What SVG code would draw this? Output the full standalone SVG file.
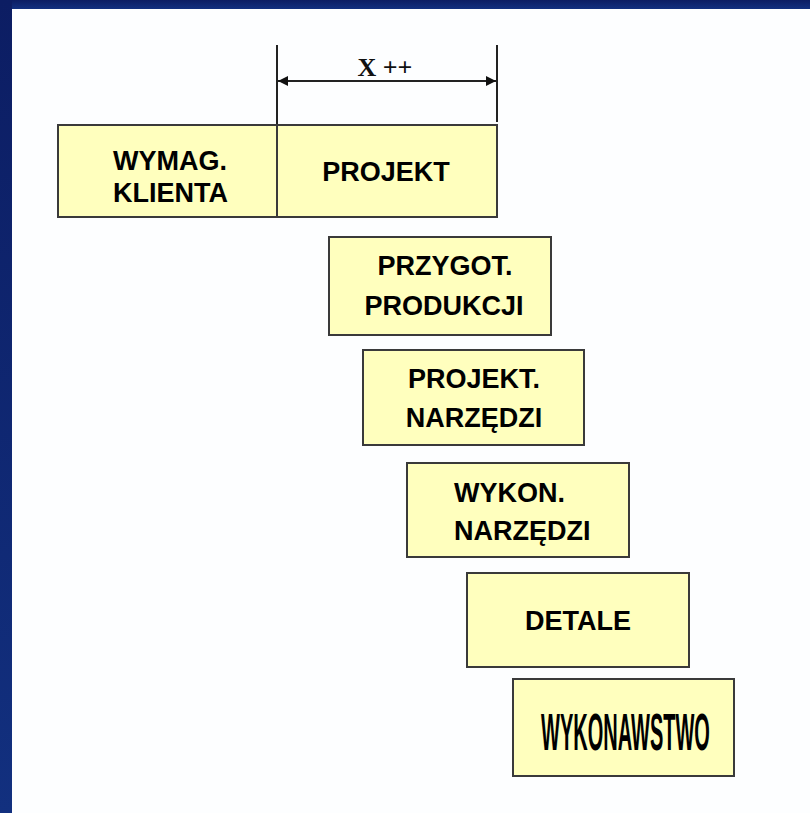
<svg xmlns="http://www.w3.org/2000/svg" width="810" height="813" viewBox="0 0 810 813">
  <style>
    .box { fill: #FFFFBE; stroke: #3a3a3a; stroke-width: 2; }
    .lbl { font-family: "Liberation Sans", Arial, sans-serif; font-weight: bold; font-size: 27px; fill: #000; }
    .mid { text-anchor: middle; }
    .dim { stroke: #222; stroke-width: 2; fill: none; }
  </style>
  <defs>
    <marker id="ah" viewBox="0 0 10 10" refX="10" refY="5" markerWidth="18" markerHeight="10" markerUnits="userSpaceOnUse" orient="auto-start-reverse">
      <path d="M0,0 L10,5 L0,10 Z" fill="#111"/>
    </marker>
    <linearGradient id="bg" x1="0" y1="0" x2="0" y2="1">
      <stop offset="0" stop-color="#0c1d63"/>
      <stop offset="1" stop-color="#12307f"/>
    </linearGradient>
  </defs>

  <rect x="0" y="0" width="810" height="813" fill="#FDFEFF"/>
  <rect x="0" y="0" width="810" height="9" fill="url(#bg)"/>
  <rect x="0" y="0" width="12" height="813" fill="url(#bg)"/>

  <g id="connectors">
    <line class="dim" x1="277" y1="45" x2="277" y2="125"/>
    <line class="dim" x1="497" y1="45" x2="497" y2="122"/>
    <line class="dim" x1="278" y1="81" x2="496" y2="81" stroke-width="2.5" marker-start="url(#ah)" marker-end="url(#ah)"/>
    <text x="385" y="76" text-anchor="middle" font-family="Liberation Serif, 'Times New Roman', serif" font-size="26" font-weight="bold" fill="#111">X ++</text>
  </g>

  <g id="wymag-klienta">
    <rect class="box" x="58" y="125" width="219" height="92"/>
    <text class="lbl" x="113" y="170">WYMAG.</text>
    <text class="lbl" x="113" y="202">KLIENTA</text>
  </g>

  <g id="projekt">
    <rect class="box" x="277" y="125" width="220" height="92"/>
    <text class="lbl mid" x="386" y="181">PROJEKT</text>
  </g>

  <g id="przygot-produkcji">
    <rect class="box" x="329" y="237" width="222" height="98"/>
    <text class="lbl mid" x="445" y="275">PRZYGOT.</text>
    <text class="lbl mid" x="444" y="315">PRODUKCJI</text>
  </g>

  <g id="projekt-narzedzi">
    <rect class="box" x="363" y="350" width="221" height="95"/>
    <text class="lbl mid" x="474" y="388">PROJEKT.</text>
    <text class="lbl mid" x="474" y="427">NARZĘDZI</text>
  </g>

  <g id="wykon-narzedzi">
    <rect class="box" x="407" y="463" width="222" height="94"/>
    <text class="lbl" x="454" y="502">WYKON.</text>
    <text class="lbl" x="454" y="540">NARZĘDZI</text>
  </g>

  <g id="detale">
    <rect class="box" x="467" y="573" width="222" height="94"/>
    <text class="lbl mid" x="578" y="630">DETALE</text>
  </g>

  <g id="wykonawstwo">
    <rect class="box" x="513" y="679" width="221" height="97"/>
    <text class="lbl mid" transform="translate(625.5,750) scale(0.5,1.3)" x="0" y="0" style="font-size:40px">WYKONAWSTWO</text>
  </g>
</svg>
